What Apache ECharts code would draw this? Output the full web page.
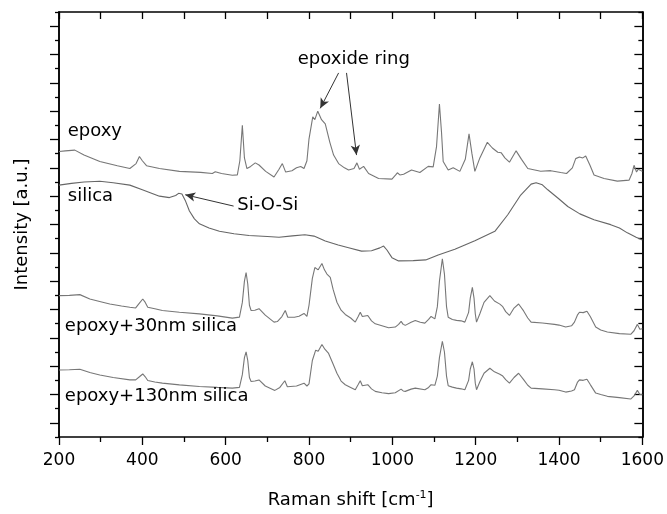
<!DOCTYPE html>
<html>
<head>
<meta charset="utf-8">
<script src="https://cdn.jsdelivr.net/npm/echarts@6/dist/echarts.min.js"></script>
<style>
  html, body { margin: 0; padding: 0; background: #fff; }
  #main { width: 667px; height: 514px; }
</style>
</head>
<body>
<div id="main"></div>
<script>
// spectra, [raman shift, intensity a.u. incl. offset]
const epoxy = [
  [200, 20.15], [215, 20.2], [238, 20.25], [260, 19.9], [298, 19.45], [340, 19.15], [370, 18.95],
  [385, 19.3], [393, 19.8], [400, 19.5], [410, 19.15], [441, 18.95], [489, 18.75], [540, 18.68],
  [568, 18.6], [575, 18.72], [590, 18.6], [616, 18.48], [628, 18.5], [634, 19.5], [640, 22.0],
  [645, 19.7], [651, 18.95], [660, 19.1], [671, 19.35], [680, 19.2], [696, 18.75], [716, 18.35],
  [728, 18.9], [736, 19.3], [744, 18.7], [759, 18.8], [770, 19.0], [780, 19.1], [788, 18.95],
  [795, 19.5], [800, 21.05], [809, 22.6], [814, 22.4], [821, 23.0], [830, 22.4], [839, 22.1],
  [850, 20.8], [859, 19.9], [871, 19.3], [885, 19.0], [895, 18.85], [908, 18.95], [915, 19.35],
  [921, 18.9], [931, 19.1], [943, 18.6], [967, 18.25], [999, 18.2], [1008, 18.5], [1012, 18.65],
  [1018, 18.5], [1027, 18.55], [1046, 18.85], [1066, 18.67], [1086, 19.1], [1098, 19.07],
  [1106, 20.5], [1113, 23.5], [1118, 21.5], [1122, 19.45], [1134, 18.85], [1146, 19.0],
  [1162, 18.75], [1175, 19.6], [1184, 21.4], [1191, 20.0], [1198, 18.75], [1210, 19.7],
  [1228, 20.8], [1240, 20.4], [1253, 20.1], [1261, 20.07], [1270, 19.7], [1281, 19.4],
  [1297, 20.2], [1310, 19.6], [1325, 18.95], [1356, 18.76], [1380, 18.8], [1404, 18.67],
  [1418, 18.6], [1432, 19.0], [1440, 19.65], [1449, 19.77], [1457, 19.7], [1464, 19.84],
  [1474, 19.2], [1484, 18.5], [1508, 18.25], [1540, 18.06], [1568, 18.13], [1575, 18.6],
  [1580, 19.18], [1586, 18.7], [1590, 18.9], [1600, 18.75]
];
const silica = [
  [200, 17.78], [230, 17.9], [260, 18.0], [298, 18.05], [330, 17.95], [370, 17.78], [400, 17.45],
  [441, 17.0], [465, 16.9], [480, 17.05], [487, 17.2], [495, 17.15], [503, 16.7], [513, 15.95],
  [525, 15.4], [537, 15.05], [560, 14.75], [585, 14.52], [620, 14.35], [656, 14.22], [700, 14.15],
  [728, 14.1], [760, 14.2], [790, 14.28], [812, 14.18], [839, 13.83], [870, 13.55], [895, 13.36],
  [926, 13.12], [950, 13.15], [970, 13.35], [979, 13.48], [987, 13.2], [999, 12.66], [1015, 12.43],
  [1050, 12.45], [1080, 12.5], [1110, 12.85], [1150, 13.25], [1198, 13.85], [1246, 14.52],
  [1277, 15.69], [1308, 17.08], [1333, 17.85], [1345, 17.95], [1360, 17.8], [1373, 17.45],
  [1400, 16.8], [1421, 16.27], [1450, 15.75], [1484, 15.34], [1524, 14.99], [1545, 14.75],
  [1564, 14.41], [1585, 14.1], [1600, 13.9]
];
const epoxy30 = [
  [200, 9.98], [225, 10.0], [250, 10.05], [274, 9.74], [300, 9.55], [322, 9.39], [350, 9.25],
  [370, 9.16], [384, 9.11], [393, 9.45], [401, 9.74], [407, 9.5], [413, 9.16], [430, 9.05],
  [448, 8.93], [489, 8.81], [537, 8.69], [580, 8.55], [616, 8.39], [633, 8.46], [640, 9.5],
  [645, 11.0], [649, 11.61], [653, 10.8], [657, 9.3], [661, 8.93], [670, 8.95], [680, 9.06],
  [695, 8.6], [716, 8.11], [724, 8.15], [735, 8.5], [743, 8.93], [749, 8.45], [752, 8.34],
  [765, 8.45], [776, 8.52], [788, 8.72], [795, 8.52], [800, 9.3], [808, 11.2], [814, 11.96],
  [822, 11.8], [831, 12.25], [837, 11.8], [843, 11.5], [851, 11.26], [858, 10.4], [867, 9.51],
  [877, 8.95], [887, 8.65], [900, 8.4], [911, 8.11], [918, 8.5], [923, 8.81], [928, 8.5],
  [931, 8.46], [941, 8.58], [950, 8.2], [959, 7.99], [975, 7.85], [991, 7.71], [1007, 7.76],
  [1015, 7.95], [1021, 8.16], [1026, 7.95], [1031, 7.88], [1045, 8.1], [1055, 8.23], [1067, 8.1],
  [1078, 8.04], [1087, 8.3], [1093, 8.51], [1102, 8.34], [1108, 9.2], [1113, 11.0], [1120, 12.58],
  [1125, 11.5], [1130, 9.2], [1134, 8.46], [1144, 8.3], [1154, 8.23], [1165, 8.2], [1174, 8.11],
  [1183, 8.8], [1187, 9.8], [1192, 10.56], [1196, 9.8], [1199, 8.7], [1202, 8.11], [1210, 8.7],
  [1220, 9.5], [1234, 9.98], [1245, 9.6], [1258, 9.38], [1265, 9.2], [1272, 8.85], [1281, 8.58],
  [1292, 9.1], [1303, 9.39], [1315, 8.9], [1325, 8.4], [1333, 8.11], [1360, 8.05], [1389, 7.95],
  [1400, 7.9], [1416, 7.76], [1430, 7.85], [1437, 8.11], [1444, 8.6], [1449, 8.81], [1458, 8.78],
  [1467, 8.88], [1475, 8.5], [1488, 7.76], [1500, 7.55], [1516, 7.41], [1545, 7.3], [1572, 7.25],
  [1580, 7.5], [1588, 7.95], [1594, 7.6], [1600, 7.64]
];
const epoxy130 = [
  [200, 4.73], [225, 4.75], [250, 4.78], [274, 4.55], [298, 4.38], [330, 4.2], [370, 4.03],
  [384, 4.03], [393, 4.25], [401, 4.45], [407, 4.25], [413, 3.99], [430, 3.88], [448, 3.8],
  [489, 3.68], [537, 3.57], [580, 3.5], [616, 3.45], [633, 3.5], [640, 4.4], [645, 5.6],
  [649, 6.01], [653, 5.4], [657, 4.2], [661, 3.92], [670, 3.95], [680, 4.03], [695, 3.6],
  [718, 3.29], [730, 3.5], [742, 3.97], [748, 3.55], [752, 3.45], [770, 3.6], [788, 3.8],
  [795, 3.6], [800, 3.75], [808, 5.4], [816, 6.13], [822, 6.06], [831, 6.53], [838, 6.2],
  [847, 5.9], [857, 5.2], [867, 4.5], [877, 3.95], [887, 3.69], [900, 3.5], [911, 3.34],
  [918, 3.7], [923, 3.97], [928, 3.62], [931, 3.57], [941, 3.69], [950, 3.4], [959, 3.22],
  [975, 3.12], [991, 3.06], [1007, 3.12], [1021, 3.38], [1026, 3.25], [1031, 3.22], [1045, 3.38],
  [1055, 3.45], [1078, 3.34], [1087, 3.5], [1093, 3.69], [1102, 3.65], [1108, 4.3], [1113, 5.6],
  [1120, 6.76], [1125, 6.0], [1130, 4.3], [1134, 3.62], [1144, 3.52], [1154, 3.45], [1165, 3.4],
  [1174, 3.34], [1183, 4.0], [1187, 4.8], [1192, 5.31], [1196, 4.8], [1199, 3.8], [1202, 3.34],
  [1210, 3.9], [1220, 4.5], [1234, 4.85], [1245, 4.6], [1258, 4.43], [1265, 4.3], [1272, 4.05],
  [1281, 3.8], [1292, 4.2], [1303, 4.5], [1315, 4.05], [1325, 3.65], [1333, 3.45], [1360, 3.4],
  [1389, 3.34], [1400, 3.3], [1416, 3.17], [1430, 3.25], [1437, 3.34], [1444, 3.85], [1449, 4.03],
  [1458, 4.0], [1467, 4.08], [1475, 3.7], [1488, 3.1], [1500, 3.0], [1516, 2.87], [1545, 2.78],
  [1572, 2.68], [1580, 2.9], [1588, 3.29], [1594, 3.0], [1600, 2.99]
];

// y ticks: long at odd units, short at even ones
const yMajorTicks = [1, 3, 5, 7, 9, 11, 13, 15, 17, 19, 21, 23, 25, 27, 29];
const yMinorTicks = [0, 2, 4, 6, 8, 10, 12, 14, 16, 18, 20, 22, 24, 26, 28, 30];

// text labels: [text, raman shift, intensity] (left edge, middle)
const labels = [
  ['epoxy', 221, 21.6],
  ['silica', 221, 17.0],
  ['epoxy+30nm silica', 214, 7.83],
  ['epoxy+130nm silica', 214, 2.87],
  ['epoxide ring', 773, 26.64],
  ['Si-O-Si', 628, 16.36]
];
// arrows: from -> to
const arrows = [
  [[871, 25.7], [827, 23.2]],
  [[890, 25.7], [914, 19.9]],
  [[619, 16.3], [503, 17.1]]
];

const FONT = 'DejaVu Sans';
const LINE = '#777';

let chart = echarts.init(document.getElementById('main'));

function spectrum(name, data, color) {
  return {
    name: name,
    type: 'line',
    data: data,
    showSymbol: false,
    silent: true,
    lineStyle: { color: color, width: 1.1 },
    z: 3
  };
}

let xBase = {
  type: 'value',
  min: 200,
  max: 1600,
  interval: 200,
  splitLine: { show: false },
  axisLine: { onZero: false, lineStyle: { color: '#000', width: 1.5 } }
};
let yBase = {
  type: 'value',
  min: 0,
  max: 30,
  interval: 1,
  splitLine: { show: false },
  axisLabel: { show: false },
  axisLine: { onZero: false, lineStyle: { color: '#000', width: 1.5 } }
};

let option = {
  animation: false,
  backgroundColor: '#fff',
  grid: { left: 59, right: 22, top: 12, bottom: 73, containLabel: false },
  xAxis: [
    Object.assign({}, xBase, {
      position: 'bottom',
      name: 'Raman shift [cm{sup|-1}]',
      nameLocation: 'middle',
      nameGap: 53,
      nameTextStyle: {
        fontFamily: FONT, fontSize: 18, color: '#000',
        rich: { sup: { fontFamily: FONT, fontSize: 11, color: '#000', verticalAlign: 'top', padding: [0, 0, 9, 0] } }
      },
      axisTick: { inside: false, length: 8, lineStyle: { color: '#000', width: 1.3 } },
      minorTick: { show: true, splitNumber: 2, length: 5, lineStyle: { color: '#000', width: 1.3 } },
      axisLabel: { fontFamily: FONT, fontSize: 17, color: '#000', margin: 15, formatter: v => String(v) }
    }),
    Object.assign({}, xBase, {
      position: 'top',
      axisTick: { inside: true, length: 7, lineStyle: { color: '#000', width: 1.3 } },
      minorTick: { show: true, splitNumber: 2, length: 7, lineStyle: { color: '#000', width: 1.3 } },
      axisLabel: { show: false }
    })
  ],
  yAxis: [
    Object.assign({}, yBase, {
      position: 'left',
      name: 'Intensity [a.u.]',
      nameLocation: 'middle',
      nameGap: 28,
      nameTextStyle: { fontFamily: FONT, fontSize: 18, color: '#000' },
      axisTick: { inside: false, length: 9, customValues: yMajorTicks, lineStyle: { color: '#000', width: 1.3 } }
    }),
    Object.assign({}, yBase, {
      position: 'left',
      axisTick: { inside: false, length: 4, customValues: yMinorTicks, lineStyle: { color: '#000', width: 1.3 } }
    }),
    Object.assign({}, yBase, {
      position: 'right',
      axisTick: { inside: true, length: 8, customValues: yMajorTicks, lineStyle: { color: '#000', width: 1.3 } }
    }),
    Object.assign({}, yBase, {
      position: 'right',
      axisTick: { inside: true, length: 4, customValues: yMinorTicks, lineStyle: { color: '#000', width: 1.3 } }
    })
  ],
  series: [
    spectrum('epoxy', epoxy, LINE),
    spectrum('silica', silica, '#666'),
    spectrum('epoxy+30nm silica', epoxy30, LINE),
    spectrum('epoxy+130nm silica', epoxy130, LINE),
    {
      name: 'labels',
      type: 'scatter',
      symbolSize: 0,
      silent: true,
      z: 5,
      itemStyle: { opacity: 1 },
      data: labels.map(l => ({
        value: [l[1], l[2]],
        label: {
          show: true,
          position: 'right',
          distance: 0,
          formatter: l[0],
          fontFamily: FONT,
          fontSize: 18,
          color: '#000',
          opacity: 1
        }
      })),
      markLine: {
        silent: true,
        symbol: ['none', 'arrow'],
        symbolSize: [7, 10],
        label: { show: false },
        lineStyle: { color: '#333', width: 1, type: 'solid', opacity: 1 },
        data: arrows.map(a => [{ coord: a[0] }, { coord: a[1] }])
      }
    }
  ]
};

chart.setOption(option);
</script>
</body>
</html>
